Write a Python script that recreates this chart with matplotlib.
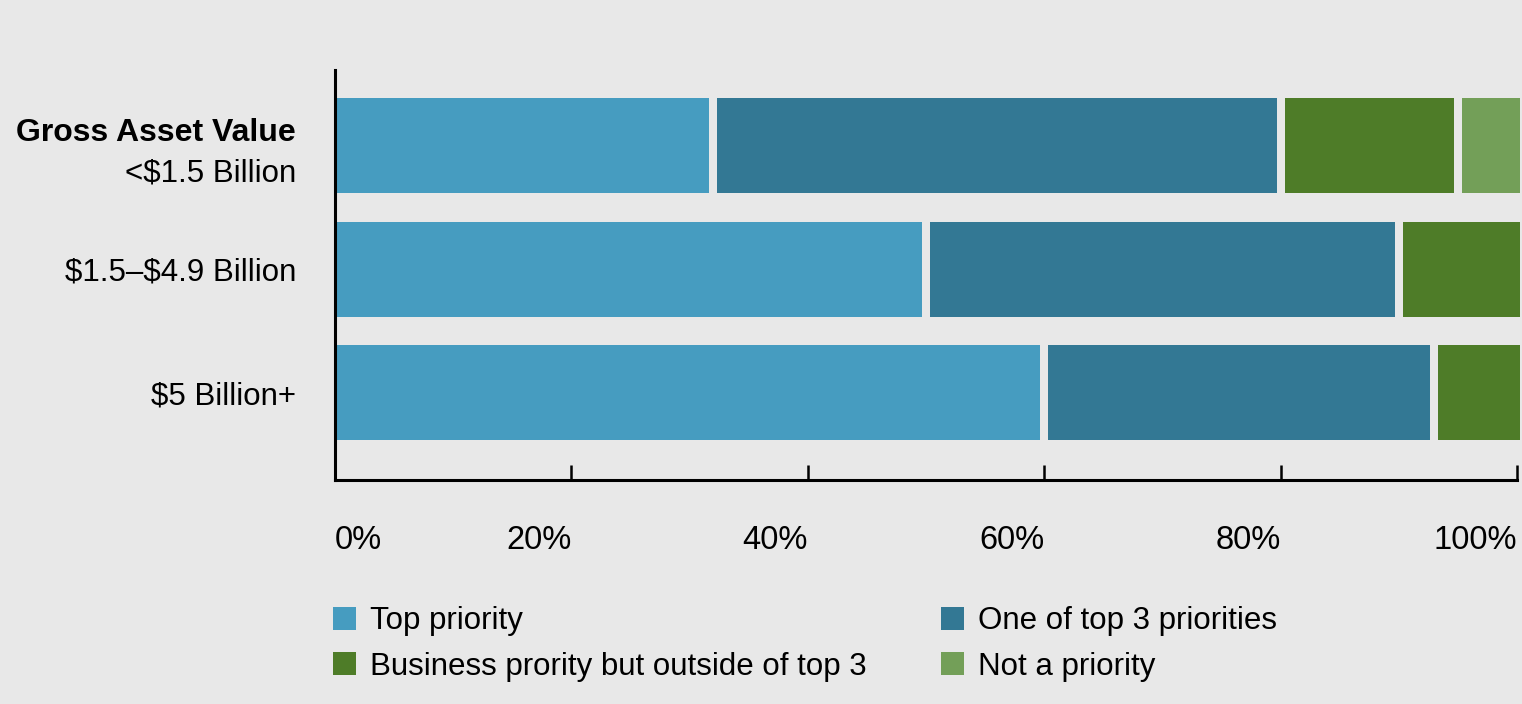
import numpy as np
import matplotlib.pyplot as plt
from matplotlib import font_manager
from matplotlib.transforms import ScaledTranslation

# Share of respondents by priority level, per gross asset value bracket (%)
groups = ["<\\$1.5 Billion", "\\$1.5\u2013\\$4.9 Billion", "\\$5 Billion+"]
top_priority = [32, 50, 60]
top_three = [48, 40, 33]
outside_top_three = [15, 10, 7]
not_priority = [5, 0, 0]

series_names = ["Top priority", "One of top 3 priorities",
                "Business prority but outside of top 3", "Not a priority"]
colors = ["#469cc0", "#337894", "#4e7c28", "#739f58"]
x_ticks = [0, 20, 40, 60, 80, 100]
x_tick_labels = ["0%", "20%", "40%", "60%", "80%", "100%"]

bg = "#e8e8e8"
installed = {f.name for f in font_manager.fontManager.ttflist}
narrow = ["Liberation Sans Narrow", "DejaVu Sans"] if "Liberation Sans Narrow" in installed \
    else ["Liberation Sans", "DejaVu Sans"]
regular = ["Liberation Sans", "DejaVu Sans"]

fig = plt.figure(figsize=(15.22, 7.04), dpi=100, facecolor=bg)
ax = fig.add_axes([0.2201, 0.318, 0.7766, 0.5824])
ax.set_facecolor(bg)

series = [top_priority, top_three, outside_top_three, not_priority]
ypos = np.arange(len(groups))
gap = 0.68  # white space between adjacent segments, in % units
bar_h = 0.77

starts = np.zeros(len(groups))
handles = []
for vals, name, col in zip(series, series_names, colors):
    vals = np.array(vals, dtype=float)
    ends = starts + vals
    left = np.where(starts > 0, starts + gap / 2, starts)
    right = np.where(ends < 99.99, ends - gap / 2, ends + 0.25)
    width = np.where(vals > 0, right - left, 0)
    bars = ax.barh(ypos, width, left=left, height=bar_h, color=col,
                   linewidth=0, label=name, zorder=2, clip_on=False)
    handles.append(bars)
    starts = ends

ax.set_xlim(0, 100)
ax.set_ylim(2.709, -0.611)

for side in ["top", "right"]:
    ax.spines[side].set_visible(False)
ax.spines["left"].set_linewidth(2.2)
ax.spines["bottom"].set_linewidth(2.2)
ax.spines["left"].set_zorder(3)

ax.set_xticks(x_ticks)
ax.set_xticklabels(x_tick_labels, family=narrow, fontsize=23.5)
ax.tick_params(axis="x", direction="in", length=11, width=1.8, pad=32, colors="black")
for lab in ax.get_xticklabels():
    lab.set_ha("right")
ax.get_xticklabels()[0].set_ha("left")

ax.set_yticks(ypos)
ax.set_yticklabels(groups, family=regular, fontsize=22.5)
ax.tick_params(axis="y", length=0, pad=28)
first = ax.get_yticklabels()[0]
first.set_transform(first.get_transform() + ScaledTranslation(0, -24 / 100, fig.dpi_scale_trans))

ax.annotate("Gross Asset Value", xy=(0, 0), xycoords="data",
            xytext=(-28, 9), textcoords="offset points",
            ha="right", va="center", fontsize=23, fontweight="bold", family=regular)

order = [0, 2, 1, 3]
leg = fig.legend([handles[i] for i in order], [series_names[i] for i in order],
                 loc="upper left", bbox_to_anchor=(333 / 1522, 1 - 606 / 704),
                 ncol=2, frameon=False, borderpad=0, borderaxespad=0,
                 handlelength=0.75, handleheight=0.75, handletextpad=0.45,
                 labelspacing=0.5, columnspacing=2.35,
                 prop={"family": narrow, "size": 22.5})

fig.savefig("out.png", dpi=100, facecolor=bg)
